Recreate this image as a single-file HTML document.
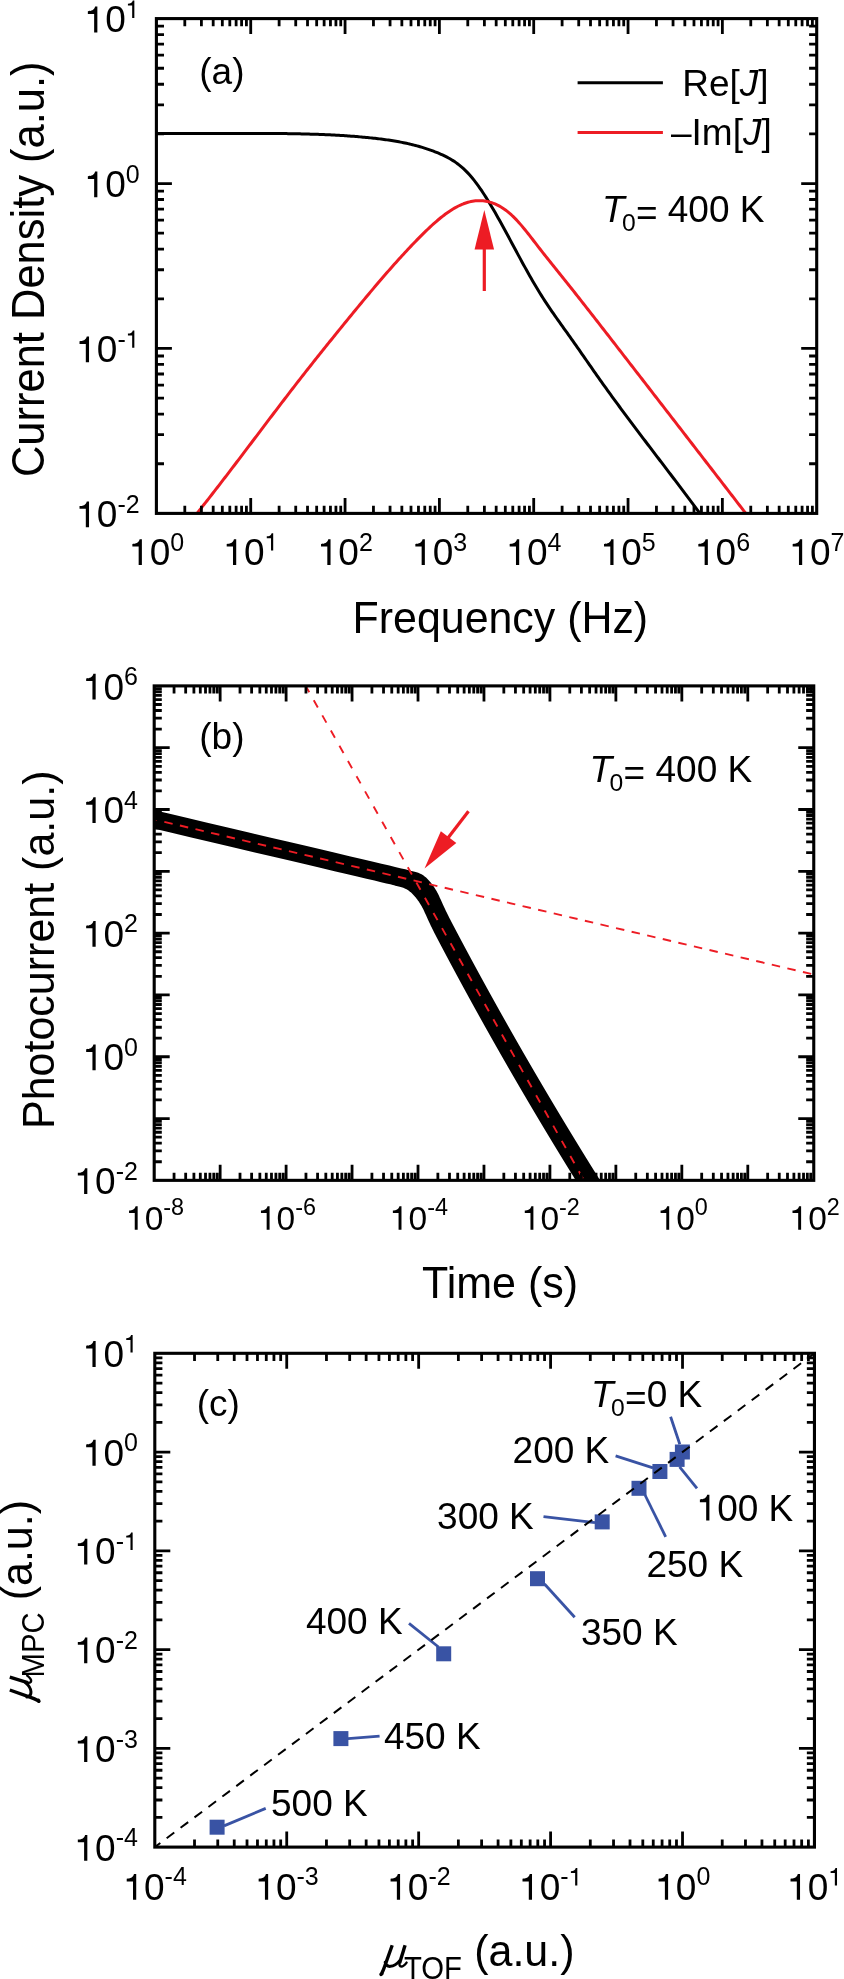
<!DOCTYPE html>
<html><head><meta charset="utf-8"><style>
html,body{margin:0;padding:0;background:#fff;}
svg{display:block;will-change:transform;}
text{font-family:"Liberation Sans", sans-serif;fill:#000;}
</style></head><body>
<svg width="844" height="1979" viewBox="0 0 844 1979">
<rect width="844" height="1979" fill="#fff"/>
<clipPath id="ca"><rect x="156.4" y="18.6" width="660.3" height="494.8"/></clipPath>
<g clip-path="url(#ca)" fill="none" stroke-linejoin="round">
<path d="M150 133.28 L151.5 133.3 L153 133.32 L154.5 133.34 L156 133.36 L157.5 133.38 L159 133.39 L160.5 133.41 L162 133.42 L163.5 133.44 L165 133.45 L166.5 133.46 L168 133.47 L169.5 133.48 L171 133.49 L172.5 133.49 L174 133.5 L175.5 133.51 L177 133.51 L178.5 133.52 L180 133.52 L181.5 133.52 L183 133.53 L184.5 133.53 L186 133.53 L187.5 133.53 L189 133.53 L190.5 133.53 L192 133.53 L193.5 133.53 L195 133.52 L196.5 133.52 L198 133.52 L199.5 133.52 L201 133.51 L202.5 133.51 L204 133.51 L205.5 133.5 L207 133.5 L208.5 133.49 L210 133.49 L211.5 133.48 L213 133.48 L214.5 133.47 L216 133.47 L217.5 133.46 L219 133.46 L220.5 133.45 L222 133.44 L223.5 133.44 L225 133.43 L226.5 133.43 L228 133.42 L229.5 133.42 L231 133.41 L232.5 133.41 L234 133.41 L235.5 133.4 L237 133.4 L238.5 133.39 L240 133.39 L241.5 133.39 L243 133.39 L244.5 133.39 L246 133.38 L247.5 133.38 L249 133.38 L250.5 133.38 L252 133.38 L253.5 133.38 L255 133.39 L256.5 133.39 L258 133.39 L259.5 133.4 L261 133.4 L262.5 133.41 L264 133.41 L265.5 133.42 L267 133.43 L268.5 133.44 L270 133.45 L271.5 133.46 L273 133.47 L274.5 133.48 L276 133.49 L277.5 133.51 L279 133.52 L280.5 133.54 L282 133.56 L283.5 133.57 L285 133.59 L286.5 133.61 L288 133.64 L289.5 133.66 L291 133.68 L292.5 133.71 L294 133.74 L295.5 133.76 L297 133.79 L298.5 133.83 L300 133.86 L301.5 133.89 L303 133.93 L304.5 133.96 L306 134 L307.5 134.04 L309 134.08 L310.5 134.13 L312 134.17 L313.5 134.22 L315 134.27 L316.5 134.32 L318 134.37 L319.5 134.43 L321 134.48 L322.5 134.54 L324 134.6 L325.5 134.67 L327 134.73 L328.5 134.8 L330 134.87 L331.5 134.95 L333 135.02 L334.5 135.1 L336 135.18 L337.5 135.26 L339 135.35 L340.5 135.44 L342 135.53 L343.5 135.62 L345 135.72 L346.5 135.82 L348 135.93 L349.5 136.03 L351 136.14 L352.5 136.25 L354 136.37 L355.5 136.49 L357 136.61 L358.5 136.74 L360 136.87 L361.5 137 L363 137.14 L364.5 137.27 L366 137.42 L367.5 137.57 L369 137.72 L370.5 137.87 L372 138.03 L373.5 138.19 L375 138.36 L376.5 138.53 L378 138.7 L379.5 138.88 L381 139.07 L382.5 139.26 L384 139.46 L385.5 139.66 L387 139.87 L388.5 140.09 L390 140.31 L391.5 140.54 L393 140.78 L394.5 141.03 L396 141.28 L397.5 141.54 L399 141.82 L400.5 142.1 L402 142.39 L403.5 142.69 L405 143 L406.5 143.32 L408 143.65 L409.5 144 L411 144.35 L412.5 144.71 L414 145.09 L415.5 145.48 L417 145.88 L418.5 146.3 L420 146.72 L421.5 147.17 L423 147.62 L424.5 148.09 L426 148.57 L427.5 149.07 L429 149.58 L430.5 150.11 L432 150.65 L433.5 151.21 L435 151.78 L436.5 152.38 L438 152.98 L439.5 153.61 L441 154.26 L442.5 154.94 L444 155.64 L445.5 156.37 L447 157.14 L448.5 157.95 L450 158.79 L451.5 159.68 L453 160.62 L454.5 161.6 L456 162.64 L457.5 163.73 L459 164.88 L460.5 166.09 L462 167.36 L463.5 168.7 L465 170.11 L466.5 171.6 L468 173.16 L469.5 174.79 L471 176.51 L472.5 178.3 L474 180.16 L475.5 182.09 L477 184.09 L478.5 186.16 L480 188.29 L481.5 190.47 L483 192.71 L484.5 195.01 L486 197.36 L487.5 199.75 L489 202.19 L490.5 204.68 L492 207.2 L493.5 209.76 L495 212.36 L496.5 214.98 L498 217.64 L499.5 220.32 L501 223.03 L502.5 225.76 L504 228.51 L505.5 231.27 L507 234.05 L508.5 236.83 L510 239.63 L511.5 242.42 L513 245.22 L514.5 248.02 L516 250.82 L517.5 253.61 L519 256.39 L520.5 259.16 L522 261.92 L523.5 264.66 L525 267.39 L526.5 270.09 L528 272.78 L529.5 275.44 L531 278.07 L532.5 280.68 L534 283.26 L535.5 285.81 L537 288.32 L538.5 290.81 L540 293.25 L541.5 295.66 L543 298.02 L544.5 300.35 L546 302.65 L547.5 304.92 L549 307.15 L550.5 309.36 L552 311.55 L553.5 313.72 L555 315.86 L556.5 318 L558 320.12 L559.5 322.23 L561 324.33 L562.5 326.42 L564 328.52 L565.5 330.61 L567 332.7 L568.5 334.8 L570 336.91 L571.5 339.03 L573 341.15 L574.5 343.29 L576 345.43 L577.5 347.57 L579 349.72 L580.5 351.87 L582 354.03 L583.5 356.19 L585 358.35 L586.5 360.51 L588 362.66 L589.5 364.82 L591 366.98 L592.5 369.13 L594 371.27 L595.5 373.42 L597 375.55 L598.5 377.68 L600 379.8 L601.5 381.92 L603 384.02 L604.5 386.12 L606 388.21 L607.5 390.3 L609 392.38 L610.5 394.45 L612 396.51 L613.5 398.57 L615 400.63 L616.5 402.68 L618 404.72 L619.5 406.76 L621 408.79 L622.5 410.82 L624 412.84 L625.5 414.86 L627 416.87 L628.5 418.88 L630 420.89 L631.5 422.89 L633 424.89 L634.5 426.89 L636 428.88 L637.5 430.87 L639 432.86 L640.5 434.84 L642 436.82 L643.5 438.8 L645 440.78 L646.5 442.76 L648 444.73 L649.5 446.7 L651 448.67 L652.5 450.64 L654 452.61 L655.5 454.58 L657 456.55 L658.5 458.52 L660 460.49 L661.5 462.45 L663 464.42 L664.5 466.39 L666 468.36 L667.5 470.33 L669 472.3 L670.5 474.28 L672 476.25 L673.5 478.22 L675 480.2 L676.5 482.18 L678 484.16 L679.5 486.15 L681 488.13 L682.5 490.12 L684 492.12 L685.5 494.11 L687 496.11 L688.5 498.11 L690 500.12 L691.5 502.13 L693 504.15 L694.5 506.16 L696 508.19 L697.5 510.21 L699 512.25 L700.5 514.29 L702 516.33 L703.5 518.38" stroke="#000" stroke-width="3"/>
<path d="M192 519.59 L193.5 517.73 L195 515.86 L196.5 513.99 L198 512.11 L199.5 510.22 L201 508.33 L202.5 506.44 L204 504.54 L205.5 502.63 L207 500.72 L208.5 498.81 L210 496.89 L211.5 494.97 L213 493.04 L214.5 491.11 L216 489.18 L217.5 487.24 L219 485.3 L220.5 483.35 L222 481.41 L223.5 479.45 L225 477.5 L226.5 475.54 L228 473.58 L229.5 471.62 L231 469.66 L232.5 467.69 L234 465.72 L235.5 463.75 L237 461.78 L238.5 459.81 L240 457.83 L241.5 455.85 L243 453.87 L244.5 451.9 L246 449.91 L247.5 447.93 L249 445.95 L250.5 443.97 L252 441.98 L253.5 440 L255 438.02 L256.5 436.03 L258 434.05 L259.5 432.06 L261 430.08 L262.5 428.1 L264 426.12 L265.5 424.13 L267 422.15 L268.5 420.17 L270 418.2 L271.5 416.22 L273 414.24 L274.5 412.27 L276 410.3 L277.5 408.33 L279 406.36 L280.5 404.39 L282 402.43 L283.5 400.47 L285 398.51 L286.5 396.55 L288 394.6 L289.5 392.65 L291 390.7 L292.5 388.76 L294 386.81 L295.5 384.88 L297 382.94 L298.5 381.01 L300 379.09 L301.5 377.17 L303 375.25 L304.5 373.33 L306 371.42 L307.5 369.52 L309 367.61 L310.5 365.71 L312 363.82 L313.5 361.92 L315 360.03 L316.5 358.15 L318 356.26 L319.5 354.38 L321 352.51 L322.5 350.63 L324 348.76 L325.5 346.89 L327 345.03 L328.5 343.16 L330 341.3 L331.5 339.44 L333 337.59 L334.5 335.73 L336 333.88 L337.5 332.03 L339 330.18 L340.5 328.34 L342 326.5 L343.5 324.65 L345 322.81 L346.5 320.98 L348 319.14 L349.5 317.31 L351 315.47 L352.5 313.64 L354 311.81 L355.5 309.99 L357 308.16 L358.5 306.34 L360 304.53 L361.5 302.71 L363 300.9 L364.5 299.1 L366 297.29 L367.5 295.5 L369 293.7 L370.5 291.91 L372 290.13 L373.5 288.35 L375 286.58 L376.5 284.81 L378 283.04 L379.5 281.29 L381 279.54 L382.5 277.79 L384 276.05 L385.5 274.32 L387 272.6 L388.5 270.88 L390 269.17 L391.5 267.47 L393 265.77 L394.5 264.08 L396 262.41 L397.5 260.74 L399 259.07 L400.5 257.42 L402 255.78 L403.5 254.14 L405 252.52 L406.5 250.9 L408 249.3 L409.5 247.7 L411 246.12 L412.5 244.54 L414 242.98 L415.5 241.43 L417 239.88 L418.5 238.35 L420 236.83 L421.5 235.33 L423 233.84 L424.5 232.36 L426 230.9 L427.5 229.46 L429 228.04 L430.5 226.64 L432 225.26 L433.5 223.91 L435 222.58 L436.5 221.27 L438 220 L439.5 218.75 L441 217.53 L442.5 216.35 L444 215.19 L445.5 214.07 L447 212.99 L448.5 211.94 L450 210.93 L451.5 209.96 L453 209.03 L454.5 208.15 L456 207.3 L457.5 206.51 L459 205.75 L460.5 205.05 L462 204.39 L463.5 203.78 L465 203.23 L466.5 202.72 L468 202.27 L469.5 201.88 L471 201.54 L472.5 201.25 L474 201.02 L475.5 200.85 L477 200.73 L478.5 200.67 L480 200.67 L481.5 200.72 L483 200.84 L484.5 201.01 L486 201.25 L487.5 201.55 L489 201.9 L490.5 202.32 L492 202.8 L493.5 203.35 L495 203.96 L496.5 204.63 L498 205.36 L499.5 206.17 L501 207.03 L502.5 207.97 L504 208.97 L505.5 210.03 L507 211.17 L508.5 212.37 L510 213.65 L511.5 214.99 L513 216.4 L514.5 217.88 L516 219.42 L517.5 221.02 L519 222.68 L520.5 224.38 L522 226.13 L523.5 227.93 L525 229.75 L526.5 231.61 L528 233.5 L529.5 235.4 L531 237.33 L532.5 239.27 L534 241.22 L535.5 243.17 L537 245.12 L538.5 247.07 L540 249.01 L541.5 250.94 L543 252.85 L544.5 254.75 L546 256.64 L547.5 258.52 L549 260.4 L550.5 262.27 L552 264.13 L553.5 265.99 L555 267.85 L556.5 269.72 L558 271.58 L559.5 273.45 L561 275.32 L562.5 277.2 L564 279.08 L565.5 280.96 L567 282.84 L568.5 284.73 L570 286.62 L571.5 288.51 L573 290.4 L574.5 292.3 L576 294.2 L577.5 296.1 L579 298.01 L580.5 299.92 L582 301.82 L583.5 303.74 L585 305.65 L586.5 307.56 L588 309.48 L589.5 311.4 L591 313.32 L592.5 315.24 L594 317.16 L595.5 319.09 L597 321.01 L598.5 322.94 L600 324.87 L601.5 326.8 L603 328.73 L604.5 330.66 L606 332.59 L607.5 334.52 L609 336.45 L610.5 338.39 L612 340.32 L613.5 342.26 L615 344.19 L616.5 346.13 L618 348.06 L619.5 350 L621 351.93 L622.5 353.87 L624 355.81 L625.5 357.74 L627 359.68 L628.5 361.61 L630 363.55 L631.5 365.49 L633 367.42 L634.5 369.36 L636 371.3 L637.5 373.23 L639 375.17 L640.5 377.11 L642 379.04 L643.5 380.98 L645 382.92 L646.5 384.86 L648 386.79 L649.5 388.73 L651 390.67 L652.5 392.61 L654 394.55 L655.5 396.48 L657 398.42 L658.5 400.36 L660 402.3 L661.5 404.24 L663 406.18 L664.5 408.12 L666 410.05 L667.5 411.99 L669 413.93 L670.5 415.87 L672 417.81 L673.5 419.75 L675 421.69 L676.5 423.63 L678 425.57 L679.5 427.51 L681 429.45 L682.5 431.39 L684 433.33 L685.5 435.27 L687 437.22 L688.5 439.16 L690 441.1 L691.5 443.04 L693 444.98 L694.5 446.92 L696 448.86 L697.5 450.81 L699 452.75 L700.5 454.69 L702 456.63 L703.5 458.57 L705 460.52 L706.5 462.46 L708 464.4 L709.5 466.35 L711 468.29 L712.5 470.23 L714 472.17 L715.5 474.12 L717 476.06 L718.5 478.01 L720 479.95 L721.5 481.89 L723 483.84 L724.5 485.78 L726 487.73 L727.5 489.67 L729 491.62 L730.5 493.56 L732 495.51 L733.5 497.45 L735 499.4 L736.5 501.34 L738 503.29 L739.5 505.23 L741 507.18 L742.5 509.13 L744 511.07 L745.5 513.02 L747 514.97 L748.5 516.91 L750 518.86" stroke="#ed1c24" stroke-width="3"/>
</g>
<line x1="484.3" y1="291" x2="484.3" y2="247.5" stroke="#ed1c24" stroke-width="3.2"/>
<polygon points="484.3,210 494.05,249.5 474.55,249.5" fill="#ed1c24"/>
<path d="M184.8 513.4V505.8M184.8 18.6V26.2M201.41 513.4V505.8M201.41 18.6V26.2M213.19 513.4V505.8M213.19 18.6V26.2M222.33 513.4V505.8M222.33 18.6V26.2M229.8 513.4V505.8M229.8 18.6V26.2M236.12 513.4V505.8M236.12 18.6V26.2M241.59 513.4V505.8M241.59 18.6V26.2M246.41 513.4V505.8M246.41 18.6V26.2M250.73 513.4V497.9M250.73 18.6V34.1M279.12 513.4V505.8M279.12 18.6V26.2M295.73 513.4V505.8M295.73 18.6V26.2M307.52 513.4V505.8M307.52 18.6V26.2M316.66 513.4V505.8M316.66 18.6V26.2M324.13 513.4V505.8M324.13 18.6V26.2M330.45 513.4V505.8M330.45 18.6V26.2M335.92 513.4V505.8M335.92 18.6V26.2M340.74 513.4V505.8M340.74 18.6V26.2M345.06 513.4V497.9M345.06 18.6V34.1M373.45 513.4V505.8M373.45 18.6V26.2M390.06 513.4V505.8M390.06 18.6V26.2M401.85 513.4V505.8M401.85 18.6V26.2M410.99 513.4V505.8M410.99 18.6V26.2M418.46 513.4V505.8M418.46 18.6V26.2M424.77 513.4V505.8M424.77 18.6V26.2M430.24 513.4V505.8M430.24 18.6V26.2M435.07 513.4V505.8M435.07 18.6V26.2M439.39 513.4V497.9M439.39 18.6V34.1M467.78 513.4V505.8M467.78 18.6V26.2M484.39 513.4V505.8M484.39 18.6V26.2M496.18 513.4V505.8M496.18 18.6V26.2M505.32 513.4V505.8M505.32 18.6V26.2M512.79 513.4V505.8M512.79 18.6V26.2M519.1 513.4V505.8M519.1 18.6V26.2M524.57 513.4V505.8M524.57 18.6V26.2M529.4 513.4V505.8M529.4 18.6V26.2M533.71 513.4V497.9M533.71 18.6V34.1M562.11 513.4V505.8M562.11 18.6V26.2M578.72 513.4V505.8M578.72 18.6V26.2M590.51 513.4V505.8M590.51 18.6V26.2M599.65 513.4V505.8M599.65 18.6V26.2M607.12 513.4V505.8M607.12 18.6V26.2M613.43 513.4V505.8M613.43 18.6V26.2M618.9 513.4V505.8M618.9 18.6V26.2M623.73 513.4V505.8M623.73 18.6V26.2M628.04 513.4V497.9M628.04 18.6V34.1M656.44 513.4V505.8M656.44 18.6V26.2M673.05 513.4V505.8M673.05 18.6V26.2M684.83 513.4V505.8M684.83 18.6V26.2M693.98 513.4V505.8M693.98 18.6V26.2M701.44 513.4V505.8M701.44 18.6V26.2M707.76 513.4V505.8M707.76 18.6V26.2M713.23 513.4V505.8M713.23 18.6V26.2M718.06 513.4V505.8M718.06 18.6V26.2M722.37 513.4V497.9M722.37 18.6V34.1M750.77 513.4V505.8M750.77 18.6V26.2M767.38 513.4V505.8M767.38 18.6V26.2M779.16 513.4V505.8M779.16 18.6V26.2M788.3 513.4V505.8M788.3 18.6V26.2M795.77 513.4V505.8M795.77 18.6V26.2M802.09 513.4V505.8M802.09 18.6V26.2M807.56 513.4V505.8M807.56 18.6V26.2M812.38 513.4V505.8M812.38 18.6V26.2M156.4 463.75H164M816.7 463.75H809.1M156.4 434.71H164M816.7 434.71H809.1M156.4 414.1H164M816.7 414.1H809.1M156.4 398.12H164M816.7 398.12H809.1M156.4 385.06H164M816.7 385.06H809.1M156.4 374.02H164M816.7 374.02H809.1M156.4 364.45H164M816.7 364.45H809.1M156.4 356.01H164M816.7 356.01H809.1M156.4 348.47H171.9M816.7 348.47H801.2M156.4 298.82H164M816.7 298.82H809.1M156.4 269.77H164M816.7 269.77H809.1M156.4 249.17H164M816.7 249.17H809.1M156.4 233.18H164M816.7 233.18H809.1M156.4 220.12H164M816.7 220.12H809.1M156.4 209.08H164M816.7 209.08H809.1M156.4 199.52H164M816.7 199.52H809.1M156.4 191.08H164M816.7 191.08H809.1M156.4 183.53H171.9M816.7 183.53H801.2M156.4 133.88H164M816.7 133.88H809.1M156.4 104.84H164M816.7 104.84H809.1M156.4 84.23H164M816.7 84.23H809.1M156.4 68.25H164M816.7 68.25H809.1M156.4 55.19H164M816.7 55.19H809.1M156.4 44.15H164M816.7 44.15H809.1M156.4 34.58H164M816.7 34.58H809.1M156.4 26.15H164M816.7 26.15H809.1" stroke="#000" stroke-width="2.8" fill="none"/>
<rect x="156.4" y="18.6" width="660.3" height="494.8" fill="none" stroke="#000" stroke-width="3.1"/>
<line x1="577.6" y1="82.7" x2="662.9" y2="82.7" stroke="#000" stroke-width="3"/>
<line x1="577.6" y1="132.5" x2="662.9" y2="132.5" stroke="#ed1c24" stroke-width="3"/>
<text transform="translate(682.2,95.8) scale(1,1.02)" font-size="37" text-anchor="start">Re[<tspan font-style="italic">J</tspan>]</text>
<text transform="translate(671,145.2) scale(1,1.02)" font-size="37" text-anchor="start">&#8211;Im[<tspan font-style="italic">J</tspan>]</text>
<text transform="translate(199.3,83.6) scale(1,1.02)" font-size="37" text-anchor="start">(a)</text>
<text transform="translate(601.9,221.9) scale(1,1.02)" font-size="37" text-anchor="start" font-style="italic">T</text>
<text transform="translate(621.9,231.2) scale(1,1.0)" font-size="24.7" text-anchor="start">0</text>
<text transform="translate(635.9,225.4) scale(1,1.02)" font-size="37" text-anchor="start">=</text>
<text transform="translate(657.51,221.9) scale(1,1.02)" font-size="37" text-anchor="start">&#160;400 K</text>
<path d="M346 0L259 0L259 497L89 497L89 570C180 574 262 600 285 697L346 697Z" transform="translate(76.23,527.2) scale(0.03700,-0.03700)"/>
<text transform="translate(96.8,527.2) scale(1,1.0)" font-size="37" text-anchor="start">0</text>
<text transform="translate(117.38,512.8) scale(1,1.0)" font-size="25" text-anchor="start">-</text>
<text transform="translate(125.7,512.8) scale(1,1.0)" font-size="25" text-anchor="start">2</text>
<path d="M346 0L259 0L259 497L89 497L89 570C180 574 262 600 285 697L346 697Z" transform="translate(76.23,362.27) scale(0.03700,-0.03700)"/>
<text transform="translate(96.8,362.27) scale(1,1.0)" font-size="37" text-anchor="start">0</text>
<text transform="translate(117.38,347.87) scale(1,1.0)" font-size="25" text-anchor="start">-</text>
<path d="M346 0L259 0L259 497L89 497L89 570C180 574 262 600 285 697L346 697Z" transform="translate(125.7,347.87) scale(0.02500,-0.02500)"/>
<path d="M346 0L259 0L259 497L89 497L89 570C180 574 262 600 285 697L346 697Z" transform="translate(84.56,197.33) scale(0.03700,-0.03700)"/>
<text transform="translate(105.13,197.33) scale(1,1.0)" font-size="37" text-anchor="start">0</text>
<text transform="translate(125.7,182.93) scale(1,1.0)" font-size="25" text-anchor="start">0</text>
<path d="M346 0L259 0L259 497L89 497L89 570C180 574 262 600 285 697L346 697Z" transform="translate(84.56,32.4) scale(0.03700,-0.03700)"/>
<text transform="translate(105.13,32.4) scale(1,1.0)" font-size="37" text-anchor="start">0</text>
<path d="M346 0L259 0L259 497L89 497L89 570C180 574 262 600 285 697L346 697Z" transform="translate(125.7,18) scale(0.02500,-0.02500)"/>
<path d="M346 0L259 0L259 497L89 497L89 570C180 574 262 600 285 697L346 697Z" transform="translate(129.08,565) scale(0.03700,-0.03700)"/>
<text transform="translate(149.65,565) scale(1,1.0)" font-size="37" text-anchor="start">0</text>
<text transform="translate(170.22,550.6) scale(1,1.0)" font-size="25" text-anchor="start">0</text>
<path d="M346 0L259 0L259 497L89 497L89 570C180 574 262 600 285 697L346 697Z" transform="translate(223.41,565) scale(0.03700,-0.03700)"/>
<text transform="translate(243.98,565) scale(1,1.0)" font-size="37" text-anchor="start">0</text>
<path d="M346 0L259 0L259 497L89 497L89 570C180 574 262 600 285 697L346 697Z" transform="translate(264.55,550.6) scale(0.02500,-0.02500)"/>
<path d="M346 0L259 0L259 497L89 497L89 570C180 574 262 600 285 697L346 697Z" transform="translate(317.74,565) scale(0.03700,-0.03700)"/>
<text transform="translate(338.31,565) scale(1,1.0)" font-size="37" text-anchor="start">0</text>
<text transform="translate(358.88,550.6) scale(1,1.0)" font-size="25" text-anchor="start">2</text>
<path d="M346 0L259 0L259 497L89 497L89 570C180 574 262 600 285 697L346 697Z" transform="translate(412.06,565) scale(0.03700,-0.03700)"/>
<text transform="translate(432.64,565) scale(1,1.0)" font-size="37" text-anchor="start">0</text>
<text transform="translate(453.21,550.6) scale(1,1.0)" font-size="25" text-anchor="start">3</text>
<path d="M346 0L259 0L259 497L89 497L89 570C180 574 262 600 285 697L346 697Z" transform="translate(506.39,565) scale(0.03700,-0.03700)"/>
<text transform="translate(526.96,565) scale(1,1.0)" font-size="37" text-anchor="start">0</text>
<text transform="translate(547.54,550.6) scale(1,1.0)" font-size="25" text-anchor="start">4</text>
<path d="M346 0L259 0L259 497L89 497L89 570C180 574 262 600 285 697L346 697Z" transform="translate(600.72,565) scale(0.03700,-0.03700)"/>
<text transform="translate(621.29,565) scale(1,1.0)" font-size="37" text-anchor="start">0</text>
<text transform="translate(641.86,550.6) scale(1,1.0)" font-size="25" text-anchor="start">5</text>
<path d="M346 0L259 0L259 497L89 497L89 570C180 574 262 600 285 697L346 697Z" transform="translate(695.05,565) scale(0.03700,-0.03700)"/>
<text transform="translate(715.62,565) scale(1,1.0)" font-size="37" text-anchor="start">0</text>
<text transform="translate(736.19,550.6) scale(1,1.0)" font-size="25" text-anchor="start">6</text>
<path d="M346 0L259 0L259 497L89 497L89 570C180 574 262 600 285 697L346 697Z" transform="translate(789.38,565) scale(0.03700,-0.03700)"/>
<text transform="translate(809.95,565) scale(1,1.0)" font-size="37" text-anchor="start">0</text>
<text transform="translate(830.52,550.6) scale(1,1.0)" font-size="25" text-anchor="start">7</text>
<text transform="translate(352.6,632.9) scale(1,1.042)" font-size="42.9" text-anchor="start">Frequency (Hz)</text>
<text transform="translate(43.8,477.1) rotate(-90) scale(1,1.042)" font-size="43.5" text-anchor="start">Current Density (a.u.)</text>
<clipPath id="cb"><rect x="154.2" y="685.9" width="659.55" height="494.45"/></clipPath>
<g clip-path="url(#cb)" fill="none">
<path d="M127.5 803.94 L130.31 804.6 L135.94 805.93 L144.38 807.91 L155.62 810.55 L169.69 813.86 L186.56 817.83 L206.25 822.46 L228.75 827.75 L249.94 832.73 L269.81 837.4 L288.38 841.76 L305.62 845.82 L321.56 849.57 L336.19 853 L349.5 856.13 L361.5 858.96 L372.16 861.47 L381.47 863.66 L389.44 865.55 L396.06 867.13 L401.34 868.39 L405.28 869.35 L407.88 869.99 L409.12 870.32 L410.33 870.64 L411.48 870.95 L412.59 871.25 L413.66 871.53 L414.67 871.81 L415.64 872.07 L416.56 872.32 L417.44 872.56 L418.3 872.84 L419.14 873.15 L419.97 873.5 L420.78 873.89 L421.58 874.32 L422.36 874.78 L423.12 875.28 L423.88 875.82 L424.62 876.39 L425.35 876.98 L426.08 877.61 L426.8 878.27 L427.51 878.95 L428.21 879.67 L428.91 880.41 L429.59 881.19 L430.27 881.98 L430.95 882.8 L431.61 883.64 L432.27 884.51 L432.91 885.39 L433.55 886.3 L434.19 887.22 L434.81 888.18 L435.43 889.17 L436.05 890.21 L436.67 891.3 L437.28 892.43 L437.89 893.6 L438.5 894.83 L439.1 896.09 L439.7 897.41 L440.31 898.75 L440.94 900.12 L441.59 901.53 L442.25 902.97 L442.92 904.44 L443.61 905.94 L444.32 907.47 L445.04 909.03 L445.8 910.65 L446.6 912.32 L447.44 914.05 L448.32 915.83 L449.25 917.66 L450.22 919.55 L451.22 921.5 L452.27 923.5 L453.32 925.5 L454.38 927.5 L455.43 929.5 L456.48 931.5 L457.54 933.5 L458.6 935.5 L459.66 937.5 L460.72 939.5 L461.78 941.5 L462.85 943.5 L463.92 945.5 L464.98 947.5 L466.05 949.5 L467.12 951.5 L468.2 953.5 L469.27 955.5 L470.35 957.5 L471.42 959.5 L472.5 961.5 L473.58 963.5 L474.67 965.5 L475.75 967.5 L476.84 969.5 L477.92 971.5 L479.01 973.5 L480.1 975.5 L481.19 977.5 L482.29 979.5 L483.38 981.5 L484.48 983.5 L485.58 985.5 L486.67 987.5 L487.78 989.5 L488.88 991.5 L489.98 993.5 L491.09 995.5 L492.2 997.5 L493.31 999.5 L494.42 1001.5 L495.53 1003.5 L496.64 1005.5 L497.76 1007.5 L498.87 1009.5 L499.99 1011.5 L501.11 1013.5 L502.23 1015.5 L503.36 1017.5 L504.48 1019.5 L505.61 1021.5 L506.74 1023.5 L507.87 1025.5 L509 1027.5 L510.13 1029.5 L511.26 1031.5 L512.4 1033.5 L513.54 1035.5 L514.68 1037.5 L515.82 1039.5 L516.96 1041.5 L518.1 1043.5 L519.25 1045.5 L520.4 1047.5 L521.54 1049.5 L522.69 1051.5 L523.85 1053.5 L525 1055.5 L526.15 1057.5 L527.31 1059.5 L528.47 1061.5 L529.63 1063.5 L530.79 1065.5 L531.95 1067.5 L533.12 1069.5 L534.28 1071.5 L535.45 1073.5 L536.62 1075.5 L537.79 1077.5 L538.96 1079.5 L540.14 1081.5 L541.31 1083.5 L542.49 1085.5 L543.67 1087.5 L544.85 1089.5 L546.03 1091.5 L547.21 1093.5 L548.4 1095.5 L549.58 1097.5 L550.77 1099.5 L551.96 1101.5 L553.15 1103.5 L554.35 1105.5 L555.54 1107.5 L556.74 1109.5 L557.93 1111.5 L559.13 1113.5 L560.33 1115.5 L561.54 1117.5 L562.74 1119.5 L563.95 1121.5 L565.15 1123.5 L566.36 1125.5 L567.57 1127.5 L568.78 1129.5 L570 1131.5 L571.21 1133.5 L572.43 1135.5 L573.65 1137.5 L574.87 1139.5 L576.09 1141.5 L577.31 1143.5 L578.53 1145.5 L579.76 1147.5 L580.99 1149.5 L582.22 1151.5 L583.45 1153.5 L584.68 1155.5 L585.91 1157.5 L587.15 1159.5 L588.39 1161.5 L589.62 1163.5 L590.87 1165.5 L592.11 1167.5 L593.35 1169.5 L594.6 1171.5 L595.84 1173.5 L597.09 1175.5 L598.34 1177.5 L599.59 1179.5 L600.69 1181.25 L601.62 1182.75 L602.41 1184 L603.03 1185 L603.5 1185.75 L603.81 1186.25 L603.97 1186.5 L588.97 1201.5 L588.81 1201.25 L588.5 1200.75 L588.03 1200 L587.41 1199 L586.62 1197.75 L585.69 1196.25 L584.59 1194.5 L583.34 1192.5 L582.09 1190.5 L580.84 1188.5 L579.6 1186.5 L578.35 1184.5 L577.11 1182.5 L575.87 1180.5 L574.62 1178.5 L573.39 1176.5 L572.15 1174.5 L570.91 1172.5 L569.68 1170.5 L568.45 1168.5 L567.22 1166.5 L565.99 1164.5 L564.76 1162.5 L563.53 1160.5 L562.31 1158.5 L561.09 1156.5 L559.87 1154.5 L558.65 1152.5 L557.43 1150.5 L556.21 1148.5 L555 1146.5 L553.78 1144.5 L552.57 1142.5 L551.36 1140.5 L550.15 1138.5 L548.95 1136.5 L547.74 1134.5 L546.54 1132.5 L545.33 1130.5 L544.13 1128.5 L542.93 1126.5 L541.74 1124.5 L540.54 1122.5 L539.35 1120.5 L538.15 1118.5 L536.96 1116.5 L535.77 1114.5 L534.58 1112.5 L533.4 1110.5 L532.21 1108.5 L531.03 1106.5 L529.85 1104.5 L528.67 1102.5 L527.49 1100.5 L526.31 1098.5 L525.14 1096.5 L523.96 1094.5 L522.79 1092.5 L521.62 1090.5 L520.45 1088.5 L519.28 1086.5 L518.12 1084.5 L516.95 1082.5 L515.79 1080.5 L514.63 1078.5 L513.47 1076.5 L512.31 1074.5 L511.15 1072.5 L510 1070.5 L508.85 1068.5 L507.69 1066.5 L506.54 1064.5 L505.4 1062.5 L504.25 1060.5 L503.1 1058.5 L501.96 1056.5 L500.82 1054.5 L499.68 1052.5 L498.54 1050.5 L497.4 1048.5 L496.26 1046.5 L495.13 1044.5 L494 1042.5 L492.87 1040.5 L491.74 1038.5 L490.61 1036.5 L489.48 1034.5 L488.36 1032.5 L487.23 1030.5 L486.11 1028.5 L484.99 1026.5 L483.87 1024.5 L482.76 1022.5 L481.64 1020.5 L480.53 1018.5 L479.42 1016.5 L478.31 1014.5 L477.2 1012.5 L476.09 1010.5 L474.98 1008.5 L473.88 1006.5 L472.78 1004.5 L471.67 1002.5 L470.58 1000.5 L469.48 998.5 L468.38 996.5 L467.29 994.5 L466.19 992.5 L465.1 990.5 L464.01 988.5 L462.92 986.5 L461.84 984.5 L460.75 982.5 L459.67 980.5 L458.58 978.5 L457.5 976.5 L456.42 974.5 L455.35 972.5 L454.27 970.5 L453.2 968.5 L452.12 966.5 L451.05 964.5 L449.98 962.5 L448.92 960.5 L447.85 958.5 L446.78 956.5 L445.72 954.5 L444.66 952.5 L443.6 950.5 L442.54 948.5 L441.48 946.5 L440.43 944.5 L439.38 942.5 L438.32 940.5 L437.27 938.5 L436.22 936.5 L435.22 934.55 L434.25 932.66 L433.32 930.83 L432.44 929.05 L431.6 927.32 L430.8 925.65 L430.04 924.03 L429.32 922.47 L428.61 920.94 L427.92 919.44 L427.25 917.97 L426.59 916.53 L425.94 915.12 L425.31 913.75 L424.7 912.41 L424.1 911.09 L423.5 909.83 L422.89 908.6 L422.28 907.43 L421.67 906.3 L421.05 905.21 L420.43 904.17 L419.81 903.18 L419.19 902.22 L418.55 901.3 L417.91 900.39 L417.27 899.51 L416.61 898.64 L415.95 897.8 L415.27 896.98 L414.59 896.19 L413.91 895.41 L413.21 894.67 L412.51 893.95 L411.8 893.27 L411.08 892.61 L410.35 891.98 L409.62 891.39 L408.88 890.82 L408.12 890.28 L407.36 889.78 L406.58 889.32 L405.78 888.89 L404.97 888.5 L404.14 888.15 L403.3 887.84 L402.44 887.56 L401.56 887.32 L400.64 887.07 L399.67 886.81 L398.66 886.53 L397.59 886.25 L396.48 885.95 L395.33 885.64 L394.12 885.32 L392.88 884.99 L390.28 884.35 L386.34 883.39 L381.06 882.13 L374.44 880.55 L366.47 878.66 L357.16 876.47 L346.5 873.96 L334.5 871.13 L321.19 868 L306.56 864.57 L290.62 860.82 L273.38 856.76 L254.81 852.4 L234.94 847.73 L213.75 842.75 L191.25 837.46 L171.56 832.83 L154.69 828.86 L140.62 825.55 L129.38 822.91 L120.94 820.93 L115.31 819.6 L112.5 818.94Z" fill="#000"/>
<line x1="140" y1="816.14" x2="830" y2="978.36" stroke="#ed1c24" stroke-width="1.9" stroke-dasharray="8.5 7.5" stroke-dashoffset="7.0"/>
<line x1="302.39" y1="680" x2="589.42" y2="1190" stroke="#ed1c24" stroke-width="1.9" stroke-dasharray="8.3 9.136" stroke-dashoffset="11.7"/>
</g>
<line x1="468.5" y1="811.2" x2="447.36" y2="838.68" stroke="#ed1c24" stroke-width="3.2"/>
<polygon points="424.5,868.4 440.86,831.15 456.31,843.04" fill="#ed1c24"/>
<path d="M174.05 1180.35V1172.75M174.05 685.9V693.5M185.67 1180.35V1172.75M185.67 685.9V693.5M193.91 1180.35V1172.75M193.91 685.9V693.5M200.3 1180.35V1172.75M200.3 685.9V693.5M205.52 1180.35V1172.75M205.52 685.9V693.5M209.94 1180.35V1172.75M209.94 685.9V693.5M213.76 1180.35V1172.75M213.76 685.9V693.5M217.14 1180.35V1172.75M217.14 685.9V693.5M220.15 1180.35V1164.85M220.15 685.9V701.4M240.01 1180.35V1172.75M240.01 685.9V693.5M251.62 1180.35V1172.75M251.62 685.9V693.5M259.86 1180.35V1172.75M259.86 685.9V693.5M266.26 1180.35V1172.75M266.26 685.9V693.5M271.48 1180.35V1172.75M271.48 685.9V693.5M275.89 1180.35V1172.75M275.89 685.9V693.5M279.72 1180.35V1172.75M279.72 685.9V693.5M283.09 1180.35V1172.75M283.09 685.9V693.5M286.11 1180.35V1164.85M286.11 685.9V701.4M305.96 1180.35V1172.75M305.96 685.9V693.5M317.58 1180.35V1172.75M317.58 685.9V693.5M325.82 1180.35V1172.75M325.82 685.9V693.5M332.21 1180.35V1172.75M332.21 685.9V693.5M337.43 1180.35V1172.75M337.43 685.9V693.5M341.85 1180.35V1172.75M341.85 685.9V693.5M345.67 1180.35V1172.75M345.67 685.9V693.5M349.05 1180.35V1172.75M349.05 685.9V693.5M352.06 1180.35V1164.85M352.06 685.9V701.4M371.92 1180.35V1172.75M371.92 685.9V693.5M383.53 1180.35V1172.75M383.53 685.9V693.5M391.77 1180.35V1172.75M391.77 685.9V693.5M398.17 1180.35V1172.75M398.17 685.9V693.5M403.39 1180.35V1172.75M403.39 685.9V693.5M407.8 1180.35V1172.75M407.8 685.9V693.5M411.63 1180.35V1172.75M411.63 685.9V693.5M415 1180.35V1172.75M415 685.9V693.5M418.02 1180.35V1164.85M418.02 685.9V701.4M437.87 1180.35V1172.75M437.87 685.9V693.5M449.49 1180.35V1172.75M449.49 685.9V693.5M457.73 1180.35V1172.75M457.73 685.9V693.5M464.12 1180.35V1172.75M464.12 685.9V693.5M469.34 1180.35V1172.75M469.34 685.9V693.5M473.76 1180.35V1172.75M473.76 685.9V693.5M477.58 1180.35V1172.75M477.58 685.9V693.5M480.96 1180.35V1172.75M480.96 685.9V693.5M483.97 1180.35V1164.85M483.97 685.9V701.4M503.83 1180.35V1172.75M503.83 685.9V693.5M515.44 1180.35V1172.75M515.44 685.9V693.5M523.68 1180.35V1172.75M523.68 685.9V693.5M530.08 1180.35V1172.75M530.08 685.9V693.5M535.3 1180.35V1172.75M535.3 685.9V693.5M539.71 1180.35V1172.75M539.71 685.9V693.5M543.54 1180.35V1172.75M543.54 685.9V693.5M546.91 1180.35V1172.75M546.91 685.9V693.5M549.93 1180.35V1164.85M549.93 685.9V701.4M569.78 1180.35V1172.75M569.78 685.9V693.5M581.4 1180.35V1172.75M581.4 685.9V693.5M589.64 1180.35V1172.75M589.64 685.9V693.5M596.03 1180.35V1172.75M596.03 685.9V693.5M601.25 1180.35V1172.75M601.25 685.9V693.5M605.67 1180.35V1172.75M605.67 685.9V693.5M609.49 1180.35V1172.75M609.49 685.9V693.5M612.87 1180.35V1172.75M612.87 685.9V693.5M615.88 1180.35V1164.85M615.88 685.9V701.4M635.74 1180.35V1172.75M635.74 685.9V693.5M647.35 1180.35V1172.75M647.35 685.9V693.5M655.59 1180.35V1172.75M655.59 685.9V693.5M661.99 1180.35V1172.75M661.99 685.9V693.5M667.21 1180.35V1172.75M667.21 685.9V693.5M671.62 1180.35V1172.75M671.62 685.9V693.5M675.45 1180.35V1172.75M675.45 685.9V693.5M678.82 1180.35V1172.75M678.82 685.9V693.5M681.84 1180.35V1164.85M681.84 685.9V701.4M701.69 1180.35V1172.75M701.69 685.9V693.5M713.31 1180.35V1172.75M713.31 685.9V693.5M721.55 1180.35V1172.75M721.55 685.9V693.5M727.94 1180.35V1172.75M727.94 685.9V693.5M733.16 1180.35V1172.75M733.16 685.9V693.5M737.58 1180.35V1172.75M737.58 685.9V693.5M741.4 1180.35V1172.75M741.4 685.9V693.5M744.78 1180.35V1172.75M744.78 685.9V693.5M747.8 1180.35V1164.85M747.8 685.9V701.4M767.65 1180.35V1172.75M767.65 685.9V693.5M779.26 1180.35V1172.75M779.26 685.9V693.5M787.5 1180.35V1172.75M787.5 685.9V693.5M793.9 1180.35V1172.75M793.9 685.9V693.5M799.12 1180.35V1172.75M799.12 685.9V693.5M803.53 1180.35V1172.75M803.53 685.9V693.5M807.36 1180.35V1172.75M807.36 685.9V693.5M810.73 1180.35V1172.75M810.73 685.9V693.5M154.2 1161.74H161.8M813.75 1161.74H806.15M154.2 1150.86H161.8M813.75 1150.86H806.15M154.2 1143.14H161.8M813.75 1143.14H806.15M154.2 1137.15H161.8M813.75 1137.15H806.15M154.2 1132.26H161.8M813.75 1132.26H806.15M154.2 1128.12H161.8M813.75 1128.12H806.15M154.2 1124.53H161.8M813.75 1124.53H806.15M154.2 1121.37H161.8M813.75 1121.37H806.15M154.2 1118.54H169.7M813.75 1118.54H798.25M154.2 1099.94H161.8M813.75 1099.94H806.15M154.2 1089.05H161.8M813.75 1089.05H806.15M154.2 1081.33H161.8M813.75 1081.33H806.15M154.2 1075.34H161.8M813.75 1075.34H806.15M154.2 1070.45H161.8M813.75 1070.45H806.15M154.2 1066.31H161.8M813.75 1066.31H806.15M154.2 1062.73H161.8M813.75 1062.73H806.15M154.2 1059.57H161.8M813.75 1059.57H806.15M154.2 1056.74H169.7M813.75 1056.74H798.25M154.2 1038.13H161.8M813.75 1038.13H806.15M154.2 1027.25H161.8M813.75 1027.25H806.15M154.2 1019.53H161.8M813.75 1019.53H806.15M154.2 1013.54H161.8M813.75 1013.54H806.15M154.2 1008.64H161.8M813.75 1008.64H806.15M154.2 1004.51H161.8M813.75 1004.51H806.15M154.2 1000.92H161.8M813.75 1000.92H806.15M154.2 997.76H161.8M813.75 997.76H806.15M154.2 994.93H169.7M813.75 994.93H798.25M154.2 976.33H161.8M813.75 976.33H806.15M154.2 965.44H161.8M813.75 965.44H806.15M154.2 957.72H161.8M813.75 957.72H806.15M154.2 951.73H161.8M813.75 951.73H806.15M154.2 946.84H161.8M813.75 946.84H806.15M154.2 942.7H161.8M813.75 942.7H806.15M154.2 939.11H161.8M813.75 939.11H806.15M154.2 935.95H161.8M813.75 935.95H806.15M154.2 933.12H169.7M813.75 933.12H798.25M154.2 914.52H161.8M813.75 914.52H806.15M154.2 903.64H161.8M813.75 903.64H806.15M154.2 895.91H161.8M813.75 895.91H806.15M154.2 889.92H161.8M813.75 889.92H806.15M154.2 885.03H161.8M813.75 885.03H806.15M154.2 880.89H161.8M813.75 880.89H806.15M154.2 877.31H161.8M813.75 877.31H806.15M154.2 874.15H161.8M813.75 874.15H806.15M154.2 871.32H169.7M813.75 871.32H798.25M154.2 852.71H161.8M813.75 852.71H806.15M154.2 841.83H161.8M813.75 841.83H806.15M154.2 834.11H161.8M813.75 834.11H806.15M154.2 828.12H161.8M813.75 828.12H806.15M154.2 823.22H161.8M813.75 823.22H806.15M154.2 819.09H161.8M813.75 819.09H806.15M154.2 815.5H161.8M813.75 815.5H806.15M154.2 812.34H161.8M813.75 812.34H806.15M154.2 809.51H169.7M813.75 809.51H798.25M154.2 790.91H161.8M813.75 790.91H806.15M154.2 780.02H161.8M813.75 780.02H806.15M154.2 772.3H161.8M813.75 772.3H806.15M154.2 766.31H161.8M813.75 766.31H806.15M154.2 761.42H161.8M813.75 761.42H806.15M154.2 757.28H161.8M813.75 757.28H806.15M154.2 753.7H161.8M813.75 753.7H806.15M154.2 750.53H161.8M813.75 750.53H806.15M154.2 747.71H169.7M813.75 747.71H798.25M154.2 729.1H161.8M813.75 729.1H806.15M154.2 718.22H161.8M813.75 718.22H806.15M154.2 710.5H161.8M813.75 710.5H806.15M154.2 704.51H161.8M813.75 704.51H806.15M154.2 699.61H161.8M813.75 699.61H806.15M154.2 695.47H161.8M813.75 695.47H806.15M154.2 691.89H161.8M813.75 691.89H806.15M154.2 688.73H161.8M813.75 688.73H806.15" stroke="#000" stroke-width="2.8" fill="none"/>
<rect x="154.2" y="685.9" width="659.55" height="494.45" fill="none" stroke="#000" stroke-width="3.1"/>
<text transform="translate(199.3,749.4) scale(1,1.02)" font-size="37" text-anchor="start">(b)</text>
<text transform="translate(589.6,781.6) scale(1,1.02)" font-size="37" text-anchor="start" font-style="italic">T</text>
<text transform="translate(609.6,791.1) scale(1,1.0)" font-size="24.7" text-anchor="start">0</text>
<text transform="translate(623.6,785.1) scale(1,1.02)" font-size="37" text-anchor="start">=</text>
<text transform="translate(645.21,781.6) scale(1,1.02)" font-size="37" text-anchor="start">&#160;400 K</text>
<path d="M346 0L259 0L259 497L89 497L89 570C180 574 262 600 285 697L346 697Z" transform="translate(74.53,1193.95) scale(0.03700,-0.03700)"/>
<text transform="translate(95.1,1193.95) scale(1,1.0)" font-size="37" text-anchor="start">0</text>
<text transform="translate(115.68,1179.55) scale(1,1.0)" font-size="25" text-anchor="start">-</text>
<text transform="translate(124,1179.55) scale(1,1.0)" font-size="25" text-anchor="start">2</text>
<path d="M346 0L259 0L259 497L89 497L89 570C180 574 262 600 285 697L346 697Z" transform="translate(82.86,1070.34) scale(0.03700,-0.03700)"/>
<text transform="translate(103.43,1070.34) scale(1,1.0)" font-size="37" text-anchor="start">0</text>
<text transform="translate(124,1055.94) scale(1,1.0)" font-size="25" text-anchor="start">0</text>
<path d="M346 0L259 0L259 497L89 497L89 570C180 574 262 600 285 697L346 697Z" transform="translate(82.86,946.73) scale(0.03700,-0.03700)"/>
<text transform="translate(103.43,946.73) scale(1,1.0)" font-size="37" text-anchor="start">0</text>
<text transform="translate(124,932.33) scale(1,1.0)" font-size="25" text-anchor="start">2</text>
<path d="M346 0L259 0L259 497L89 497L89 570C180 574 262 600 285 697L346 697Z" transform="translate(82.86,823.11) scale(0.03700,-0.03700)"/>
<text transform="translate(103.43,823.11) scale(1,1.0)" font-size="37" text-anchor="start">0</text>
<text transform="translate(124,808.71) scale(1,1.0)" font-size="25" text-anchor="start">4</text>
<path d="M346 0L259 0L259 497L89 497L89 570C180 574 262 600 285 697L346 697Z" transform="translate(82.86,699.5) scale(0.03700,-0.03700)"/>
<text transform="translate(103.43,699.5) scale(1,1.0)" font-size="37" text-anchor="start">0</text>
<text transform="translate(124,685.1) scale(1,1.0)" font-size="25" text-anchor="start">6</text>
<path d="M346 0L259 0L259 497L89 497L89 570C180 574 262 600 285 697L346 697Z" transform="translate(126.07,1229.7) scale(0.03350,-0.03350)"/>
<text transform="translate(144.7,1229.7) scale(1,1.0)" font-size="33.5" text-anchor="start">0</text>
<text transform="translate(163.32,1215.3) scale(1,1.0)" font-size="23.4" text-anchor="start">-</text>
<text transform="translate(171.12,1215.3) scale(1,1.0)" font-size="23.4" text-anchor="start">8</text>
<path d="M346 0L259 0L259 497L89 497L89 570C180 574 262 600 285 697L346 697Z" transform="translate(257.98,1229.7) scale(0.03350,-0.03350)"/>
<text transform="translate(276.61,1229.7) scale(1,1.0)" font-size="33.5" text-anchor="start">0</text>
<text transform="translate(295.23,1215.3) scale(1,1.0)" font-size="23.4" text-anchor="start">-</text>
<text transform="translate(303.03,1215.3) scale(1,1.0)" font-size="23.4" text-anchor="start">6</text>
<path d="M346 0L259 0L259 497L89 497L89 570C180 574 262 600 285 697L346 697Z" transform="translate(389.89,1229.7) scale(0.03350,-0.03350)"/>
<text transform="translate(408.52,1229.7) scale(1,1.0)" font-size="33.5" text-anchor="start">0</text>
<text transform="translate(427.14,1215.3) scale(1,1.0)" font-size="23.4" text-anchor="start">-</text>
<text transform="translate(434.94,1215.3) scale(1,1.0)" font-size="23.4" text-anchor="start">4</text>
<path d="M346 0L259 0L259 497L89 497L89 570C180 574 262 600 285 697L346 697Z" transform="translate(521.8,1229.7) scale(0.03350,-0.03350)"/>
<text transform="translate(540.43,1229.7) scale(1,1.0)" font-size="33.5" text-anchor="start">0</text>
<text transform="translate(559.05,1215.3) scale(1,1.0)" font-size="23.4" text-anchor="start">-</text>
<text transform="translate(566.85,1215.3) scale(1,1.0)" font-size="23.4" text-anchor="start">2</text>
<path d="M346 0L259 0L259 497L89 497L89 570C180 574 262 600 285 697L346 697Z" transform="translate(657.61,1229.7) scale(0.03350,-0.03350)"/>
<text transform="translate(676.23,1229.7) scale(1,1.0)" font-size="33.5" text-anchor="start">0</text>
<text transform="translate(694.86,1215.3) scale(1,1.0)" font-size="23.4" text-anchor="start">0</text>
<path d="M346 0L259 0L259 497L89 497L89 570C180 574 262 600 285 697L346 697Z" transform="translate(789.52,1229.7) scale(0.03350,-0.03350)"/>
<text transform="translate(808.14,1229.7) scale(1,1.0)" font-size="33.5" text-anchor="start">0</text>
<text transform="translate(826.77,1215.3) scale(1,1.0)" font-size="23.4" text-anchor="start">2</text>
<text transform="translate(422,1298.1) scale(1,1.042)" font-size="43" text-anchor="start">Time (s)</text>
<text transform="translate(54,1129) rotate(-90) scale(1,1.042)" font-size="43" text-anchor="start">Photocurrent (a.u.)</text>
<clipPath id="cc"><rect x="154.8" y="1353.3" width="659.65" height="493.8"/></clipPath>
<line x1="679.8" y1="1444.3" x2="670.6" y2="1416.8" stroke="#3953a4" stroke-width="2.8"/>
<line x1="679.6" y1="1466.8" x2="697" y2="1488.3" stroke="#3953a4" stroke-width="2.8"/>
<line x1="615.6" y1="1455.9" x2="653" y2="1467.8" stroke="#3953a4" stroke-width="2.8"/>
<line x1="645" y1="1495" x2="665.7" y2="1536.8" stroke="#3953a4" stroke-width="2.8"/>
<line x1="543.5" y1="1516.7" x2="595" y2="1522.6" stroke="#3953a4" stroke-width="2.8"/>
<line x1="544.5" y1="1584" x2="574.7" y2="1617.2" stroke="#3953a4" stroke-width="2.8"/>
<line x1="409" y1="1623.4" x2="438.5" y2="1647" stroke="#3953a4" stroke-width="2.8"/>
<line x1="348" y1="1738.6" x2="379.6" y2="1736.2" stroke="#3953a4" stroke-width="2.8"/>
<line x1="224" y1="1825.9" x2="265.7" y2="1808.4" stroke="#3953a4" stroke-width="2.8"/>
<rect x="674.9" y="1444.5" width="15" height="15" fill="#3953a4"/>
<rect x="669.6" y="1451.9" width="15" height="15" fill="#3953a4"/>
<rect x="652.4" y="1464" width="15" height="15" fill="#3953a4"/>
<rect x="631.5" y="1480.8" width="15" height="15" fill="#3953a4"/>
<rect x="594.7" y="1514.4" width="15" height="15" fill="#3953a4"/>
<rect x="530" y="1571.2" width="15" height="15" fill="#3953a4"/>
<rect x="436.2" y="1646.3" width="15" height="15" fill="#3953a4"/>
<rect x="333.4" y="1731.1" width="15" height="15" fill="#3953a4"/>
<rect x="209.6" y="1819.7" width="15" height="15" fill="#3953a4"/>
<g clip-path="url(#cc)">
<line x1="154.8" y1="1847.1" x2="814.45" y2="1353.3" stroke="#000" stroke-width="2" stroke-dasharray="9.5 7.9" stroke-dashoffset="2.6"/>
</g>
<path d="M194.51 1847.1V1839.5M194.51 1353.3V1360.9M217.75 1847.1V1839.5M217.75 1353.3V1360.9M234.23 1847.1V1839.5M234.23 1353.3V1360.9M247.02 1847.1V1839.5M247.02 1353.3V1360.9M257.46 1847.1V1839.5M257.46 1353.3V1360.9M266.29 1847.1V1839.5M266.29 1353.3V1360.9M273.94 1847.1V1839.5M273.94 1353.3V1360.9M280.69 1847.1V1839.5M280.69 1353.3V1360.9M286.73 1847.1V1831.6M286.73 1353.3V1368.8M326.44 1847.1V1839.5M326.44 1353.3V1360.9M349.68 1847.1V1839.5M349.68 1353.3V1360.9M366.16 1847.1V1839.5M366.16 1353.3V1360.9M378.95 1847.1V1839.5M378.95 1353.3V1360.9M389.39 1847.1V1839.5M389.39 1353.3V1360.9M398.22 1847.1V1839.5M398.22 1353.3V1360.9M405.87 1847.1V1839.5M405.87 1353.3V1360.9M412.62 1847.1V1839.5M412.62 1353.3V1360.9M418.66 1847.1V1831.6M418.66 1353.3V1368.8M458.37 1847.1V1839.5M458.37 1353.3V1360.9M481.61 1847.1V1839.5M481.61 1353.3V1360.9M498.09 1847.1V1839.5M498.09 1353.3V1360.9M510.88 1847.1V1839.5M510.88 1353.3V1360.9M521.32 1847.1V1839.5M521.32 1353.3V1360.9M530.15 1847.1V1839.5M530.15 1353.3V1360.9M537.8 1847.1V1839.5M537.8 1353.3V1360.9M544.55 1847.1V1839.5M544.55 1353.3V1360.9M550.59 1847.1V1831.6M550.59 1353.3V1368.8M590.3 1847.1V1839.5M590.3 1353.3V1360.9M613.54 1847.1V1839.5M613.54 1353.3V1360.9M630.02 1847.1V1839.5M630.02 1353.3V1360.9M642.81 1847.1V1839.5M642.81 1353.3V1360.9M653.25 1847.1V1839.5M653.25 1353.3V1360.9M662.08 1847.1V1839.5M662.08 1353.3V1360.9M669.73 1847.1V1839.5M669.73 1353.3V1360.9M676.48 1847.1V1839.5M676.48 1353.3V1360.9M682.52 1847.1V1831.6M682.52 1353.3V1368.8M722.23 1847.1V1839.5M722.23 1353.3V1360.9M745.47 1847.1V1839.5M745.47 1353.3V1360.9M761.95 1847.1V1839.5M761.95 1353.3V1360.9M774.74 1847.1V1839.5M774.74 1353.3V1360.9M785.18 1847.1V1839.5M785.18 1353.3V1360.9M794.01 1847.1V1839.5M794.01 1353.3V1360.9M801.66 1847.1V1839.5M801.66 1353.3V1360.9M808.41 1847.1V1839.5M808.41 1353.3V1360.9M154.8 1817.37H162.4M814.45 1817.37H806.85M154.8 1799.98H162.4M814.45 1799.98H806.85M154.8 1787.64H162.4M814.45 1787.64H806.85M154.8 1778.07H162.4M814.45 1778.07H806.85M154.8 1770.25H162.4M814.45 1770.25H806.85M154.8 1763.64H162.4M814.45 1763.64H806.85M154.8 1757.91H162.4M814.45 1757.91H806.85M154.8 1752.86H162.4M814.45 1752.86H806.85M154.8 1748.34H170.3M814.45 1748.34H798.95M154.8 1718.61H162.4M814.45 1718.61H806.85M154.8 1701.22H162.4M814.45 1701.22H806.85M154.8 1688.88H162.4M814.45 1688.88H806.85M154.8 1679.31H162.4M814.45 1679.31H806.85M154.8 1671.49H162.4M814.45 1671.49H806.85M154.8 1664.88H162.4M814.45 1664.88H806.85M154.8 1659.15H162.4M814.45 1659.15H806.85M154.8 1654.1H162.4M814.45 1654.1H806.85M154.8 1649.58H170.3M814.45 1649.58H798.95M154.8 1619.85H162.4M814.45 1619.85H806.85M154.8 1602.46H162.4M814.45 1602.46H806.85M154.8 1590.12H162.4M814.45 1590.12H806.85M154.8 1580.55H162.4M814.45 1580.55H806.85M154.8 1572.73H162.4M814.45 1572.73H806.85M154.8 1566.12H162.4M814.45 1566.12H806.85M154.8 1560.39H162.4M814.45 1560.39H806.85M154.8 1555.34H162.4M814.45 1555.34H806.85M154.8 1550.82H170.3M814.45 1550.82H798.95M154.8 1521.09H162.4M814.45 1521.09H806.85M154.8 1503.7H162.4M814.45 1503.7H806.85M154.8 1491.36H162.4M814.45 1491.36H806.85M154.8 1481.79H162.4M814.45 1481.79H806.85M154.8 1473.97H162.4M814.45 1473.97H806.85M154.8 1467.36H162.4M814.45 1467.36H806.85M154.8 1461.63H162.4M814.45 1461.63H806.85M154.8 1456.58H162.4M814.45 1456.58H806.85M154.8 1452.06H170.3M814.45 1452.06H798.95M154.8 1422.33H162.4M814.45 1422.33H806.85M154.8 1404.94H162.4M814.45 1404.94H806.85M154.8 1392.6H162.4M814.45 1392.6H806.85M154.8 1383.03H162.4M814.45 1383.03H806.85M154.8 1375.21H162.4M814.45 1375.21H806.85M154.8 1368.6H162.4M814.45 1368.6H806.85M154.8 1362.87H162.4M814.45 1362.87H806.85M154.8 1357.82H162.4M814.45 1357.82H806.85" stroke="#000" stroke-width="2.8" fill="none"/>
<rect x="154.8" y="1353.3" width="659.65" height="493.8" fill="none" stroke="#000" stroke-width="3.1"/>
<text transform="translate(196.7,1415.8) scale(1,1.02)" font-size="37" text-anchor="start">(c)</text>
<text transform="translate(591.1,1406.5) scale(1,1.02)" font-size="37" text-anchor="start" font-style="italic">T</text>
<text transform="translate(611.1,1415.9) scale(1,1.0)" font-size="24.7" text-anchor="start">0</text>
<text transform="translate(625.1,1410) scale(1,1.02)" font-size="37" text-anchor="start">=</text>
<text transform="translate(646.71,1406.5) scale(1,1.02)" font-size="37" text-anchor="start">0 K</text>
<path d="M346 0L259 0L259 497L89 497L89 570C180 574 262 600 285 697L346 697Z" transform="translate(696.6,1520.6) scale(0.03700,-0.03700)"/>
<text transform="translate(717.17,1520.6) scale(1,1.02)" font-size="37" text-anchor="start">00 K</text>
<text transform="translate(512.6,1462.8) scale(1,1.02)" font-size="37" text-anchor="start">200 K</text>
<text transform="translate(646.4,1576.8) scale(1,1.02)" font-size="37" text-anchor="start">250 K</text>
<text transform="translate(437.1,1529) scale(1,1.02)" font-size="37" text-anchor="start">300 K</text>
<text transform="translate(580.9,1645.2) scale(1,1.02)" font-size="37" text-anchor="start">350 K</text>
<text transform="translate(305.9,1634) scale(1,1.02)" font-size="37" text-anchor="start">400 K</text>
<text transform="translate(383.9,1749.3) scale(1,1.02)" font-size="37" text-anchor="start">450 K</text>
<text transform="translate(271,1815.8) scale(1,1.02)" font-size="37" text-anchor="start">500 K</text>
<path d="M346 0L259 0L259 497L89 497L89 570C180 574 262 600 285 697L346 697Z" transform="translate(74.53,1860.7) scale(0.03700,-0.03700)"/>
<text transform="translate(95.1,1860.7) scale(1,1.0)" font-size="37" text-anchor="start">0</text>
<text transform="translate(115.68,1846.3) scale(1,1.0)" font-size="25" text-anchor="start">-</text>
<text transform="translate(124,1846.3) scale(1,1.0)" font-size="25" text-anchor="start">4</text>
<path d="M346 0L259 0L259 497L89 497L89 570C180 574 262 600 285 697L346 697Z" transform="translate(74.53,1761.94) scale(0.03700,-0.03700)"/>
<text transform="translate(95.1,1761.94) scale(1,1.0)" font-size="37" text-anchor="start">0</text>
<text transform="translate(115.68,1747.54) scale(1,1.0)" font-size="25" text-anchor="start">-</text>
<text transform="translate(124,1747.54) scale(1,1.0)" font-size="25" text-anchor="start">3</text>
<path d="M346 0L259 0L259 497L89 497L89 570C180 574 262 600 285 697L346 697Z" transform="translate(74.53,1663.18) scale(0.03700,-0.03700)"/>
<text transform="translate(95.1,1663.18) scale(1,1.0)" font-size="37" text-anchor="start">0</text>
<text transform="translate(115.68,1648.78) scale(1,1.0)" font-size="25" text-anchor="start">-</text>
<text transform="translate(124,1648.78) scale(1,1.0)" font-size="25" text-anchor="start">2</text>
<path d="M346 0L259 0L259 497L89 497L89 570C180 574 262 600 285 697L346 697Z" transform="translate(74.53,1564.42) scale(0.03700,-0.03700)"/>
<text transform="translate(95.1,1564.42) scale(1,1.0)" font-size="37" text-anchor="start">0</text>
<text transform="translate(115.68,1550.02) scale(1,1.0)" font-size="25" text-anchor="start">-</text>
<path d="M346 0L259 0L259 497L89 497L89 570C180 574 262 600 285 697L346 697Z" transform="translate(124,1550.02) scale(0.02500,-0.02500)"/>
<path d="M346 0L259 0L259 497L89 497L89 570C180 574 262 600 285 697L346 697Z" transform="translate(82.86,1465.66) scale(0.03700,-0.03700)"/>
<text transform="translate(103.43,1465.66) scale(1,1.0)" font-size="37" text-anchor="start">0</text>
<text transform="translate(124,1451.26) scale(1,1.0)" font-size="25" text-anchor="start">0</text>
<path d="M346 0L259 0L259 497L89 497L89 570C180 574 262 600 285 697L346 697Z" transform="translate(82.86,1366.9) scale(0.03700,-0.03700)"/>
<text transform="translate(103.43,1366.9) scale(1,1.0)" font-size="37" text-anchor="start">0</text>
<path d="M346 0L259 0L259 497L89 497L89 570C180 574 262 600 285 697L346 697Z" transform="translate(124,1352.5) scale(0.02500,-0.02500)"/>
<path d="M346 0L259 0L259 497L89 497L89 570C180 574 262 600 285 697L346 697Z" transform="translate(123.42,1899.8) scale(0.03700,-0.03700)"/>
<text transform="translate(143.99,1899.8) scale(1,1.0)" font-size="37" text-anchor="start">0</text>
<text transform="translate(164.56,1885.4) scale(1,1.0)" font-size="25" text-anchor="start">-</text>
<text transform="translate(172.88,1885.4) scale(1,1.0)" font-size="25" text-anchor="start">4</text>
<path d="M346 0L259 0L259 497L89 497L89 570C180 574 262 600 285 697L346 697Z" transform="translate(255.35,1899.8) scale(0.03700,-0.03700)"/>
<text transform="translate(275.92,1899.8) scale(1,1.0)" font-size="37" text-anchor="start">0</text>
<text transform="translate(296.49,1885.4) scale(1,1.0)" font-size="25" text-anchor="start">-</text>
<text transform="translate(304.81,1885.4) scale(1,1.0)" font-size="25" text-anchor="start">3</text>
<path d="M346 0L259 0L259 497L89 497L89 570C180 574 262 600 285 697L346 697Z" transform="translate(387.28,1899.8) scale(0.03700,-0.03700)"/>
<text transform="translate(407.85,1899.8) scale(1,1.0)" font-size="37" text-anchor="start">0</text>
<text transform="translate(428.42,1885.4) scale(1,1.0)" font-size="25" text-anchor="start">-</text>
<text transform="translate(436.74,1885.4) scale(1,1.0)" font-size="25" text-anchor="start">2</text>
<path d="M346 0L259 0L259 497L89 497L89 570C180 574 262 600 285 697L346 697Z" transform="translate(519.21,1899.8) scale(0.03700,-0.03700)"/>
<text transform="translate(539.78,1899.8) scale(1,1.0)" font-size="37" text-anchor="start">0</text>
<text transform="translate(560.35,1885.4) scale(1,1.0)" font-size="25" text-anchor="start">-</text>
<path d="M346 0L259 0L259 497L89 497L89 570C180 574 262 600 285 697L346 697Z" transform="translate(568.67,1885.4) scale(0.02500,-0.02500)"/>
<path d="M346 0L259 0L259 497L89 497L89 570C180 574 262 600 285 697L346 697Z" transform="translate(655.3,1899.8) scale(0.03700,-0.03700)"/>
<text transform="translate(675.87,1899.8) scale(1,1.0)" font-size="37" text-anchor="start">0</text>
<text transform="translate(696.44,1885.4) scale(1,1.0)" font-size="25" text-anchor="start">0</text>
<path d="M346 0L259 0L259 497L89 497L89 570C180 574 262 600 285 697L346 697Z" transform="translate(787.23,1899.8) scale(0.03700,-0.03700)"/>
<text transform="translate(807.8,1899.8) scale(1,1.0)" font-size="37" text-anchor="start">0</text>
<path d="M346 0L259 0L259 497L89 497L89 570C180 574 262 600 285 697L346 697Z" transform="translate(828.37,1885.4) scale(0.02500,-0.02500)"/>
<g transform="translate(379,1966.8)" fill="none" stroke="#000"><path d="M13.2 -21.6L5.8 -0.8Q4.4 3.4 2.8 6.4" stroke-width="3.4"/><path d="M6.2 -4.5C7 1.0 14.5 1.4 20.8 -6.2" stroke-width="3" stroke-linecap="round"/><path d="M26.1 -21.6L20.6 -3.8" stroke-width="3.4"/><path d="M20.6 -3.8C19.6 0.6 23.5 1.4 27.6 -4.2" stroke-width="2.4" stroke-linecap="round"/><ellipse cx="2.4" cy="7.2" rx="2.3" ry="1.9" fill="#000" stroke="none" transform="rotate(-35 2.4 7.2)"/></g>
<text transform="translate(403.9,1979.2) scale(1,1.042)" font-size="29.3" text-anchor="start">TOF</text>
<text transform="translate(474.2,1966) scale(1,1.042)" font-size="43" text-anchor="start">(a.u.)</text>
<g transform="translate(31.4,1703.2) rotate(-90)" fill="none" stroke="#000"><path d="M13.2 -21.6L5.8 -0.8Q4.4 3.4 2.8 6.4" stroke-width="3.4"/><path d="M6.2 -4.5C7 1.0 14.5 1.4 20.8 -6.2" stroke-width="3" stroke-linecap="round"/><path d="M26.1 -21.6L20.6 -3.8" stroke-width="3.4"/><path d="M20.6 -3.8C19.6 0.6 23.5 1.4 27.6 -4.2" stroke-width="2.4" stroke-linecap="round"/><ellipse cx="2.4" cy="7.2" rx="2.3" ry="1.9" fill="#000" stroke="none" transform="rotate(-35 2.4 7.2)"/></g>
<text transform="translate(44.2,1677.4) rotate(-90) scale(1,1.042)" font-size="29.3" text-anchor="start">MPC</text>
<text transform="translate(32,1600.3) rotate(-90) scale(1,1.042)" font-size="43" text-anchor="start">(a.u.)</text>
</svg>
</body></html>
